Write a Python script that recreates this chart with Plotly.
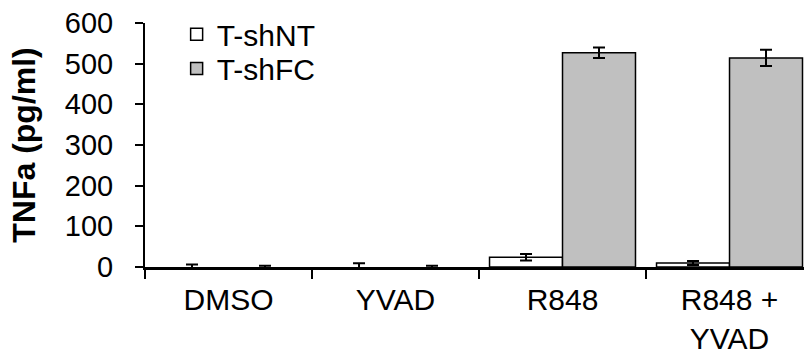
import plotly.graph_objects as go

categories = ["DMSO", "YVAD", "R848", "R848 +<br>YVAD"]
shNT_vals = [0, 0, 24, 10]
shNT_err = [6, 9, 8, 5]
shFC_vals = [0, 0, 527, 514]
shFC_err = [3, 3, 13, 20]
yticks = [0, 100, 200, 300, 400, 500, 600]

FONT = "Arial, Liberation Sans, sans-serif"

def bar_trace(name, vals, errs, fill, legend):
    # list non-zero bars first so the legend swatch takes an outlined bar's style
    order = sorted(range(len(vals)), key=lambda i: vals[i] == 0)
    xs = [categories[i] for i in order]
    ys = [vals[i] for i in order]
    es = [errs[i] for i in order]
    widths = [1.5 if v > 0 else 0 for v in ys]
    return go.Bar(
        name=name, x=xs, y=ys, legend=legend,
        marker=dict(color=fill, line=dict(color="black", width=widths)),
        error_y=dict(type="data", array=es, color="black", thickness=2, width=6),
    )

fig = go.Figure()
fig.add_trace(bar_trace("T-shNT", shNT_vals, shNT_err, "white", "legend"))
fig.add_trace(bar_trace("T-shFC", shFC_vals, shFC_err, "#C0C0C0", "legend2"))

leg_common = dict(xanchor="left", yanchor="top", bgcolor="rgba(0,0,0,0)",
                  font=dict(size=30, family=FONT, color="black"), itemwidth=30)
fig.update_layout(
    width=804, height=358,
    margin=dict(l=145, r=0, t=23, b=91),
    paper_bgcolor="white", plot_bgcolor="white",
    barmode="group", bargap=0.126, bargroupgap=0,
    font=dict(family=FONT, size=30, color="black"),
    showlegend=True,
    legend=dict(x=0.048, y=1.06, **leg_common),
    legend2=dict(x=0.048, y=0.92, **leg_common),
)
fig.update_xaxes(
    categoryorder="array", categoryarray=categories,
    range=[-0.5, 3.446],
    showline=True, linecolor="black", linewidth=3,
    ticks="outside", tickson="boundaries", ticklen=9, tickwidth=2, tickcolor="black",
    tickfont=dict(size=30), showgrid=False, zeroline=False,
    ticklabelstandoff=4,
)
fig.update_yaxes(
    range=[0, 600], tickvals=yticks,
    showline=True, linecolor="black", linewidth=2,
    ticks="outside", ticklen=8, tickwidth=2, tickcolor="black",
    tickfont=dict(size=29), showgrid=False, zeroline=False,
    ticklabelstandoff=16,
    title=dict(text="<b>TNFa (pg/ml)</b>", font=dict(size=32), standoff=20),
)

fig.write_html("out.html")
